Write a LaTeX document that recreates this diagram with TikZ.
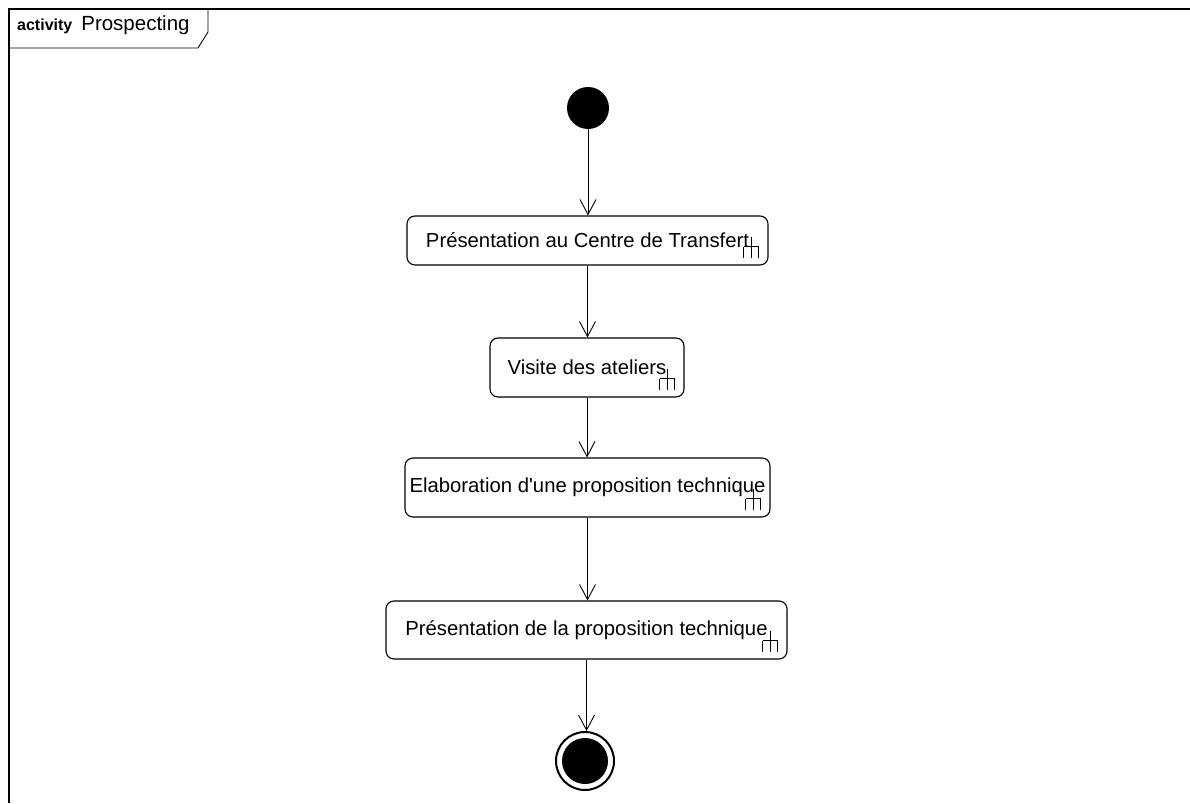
\documentclass[tikz,border=0pt]{standalone}
\usepackage{fontspec}
\setmainfont{Liberation Sans}
\usepackage{tikz}
\usetikzlibrary{arrows.meta}

\newcommand{\rakeicon}[1]{%
  \draw[rake] ([xshift=-25pt,yshift=19pt]#1.south east) -- ++(15pt,0pt);
  \draw[rake] ([xshift=-17.5pt,yshift=29pt]#1.south east) -- ++(0pt,-21pt);
  \draw[rake] ([xshift=-25pt,yshift=19pt]#1.south east) -- ++(0pt,-11pt);
  \draw[rake] ([xshift=-10pt,yshift=19pt]#1.south east) -- ++(0pt,-11pt);
}

\begin{document}
\begin{tikzpicture}[
    x=1pt, y=1pt,
    font=\fontsize{20.3}{24}\selectfont,
    action/.style={draw, line width=1.1pt, rounded corners=8pt, inner sep=0pt},
    flow/.style={draw, line width=0.9pt, -{Straight Barb[length=15pt,width=16pt]}},
    rake/.style={line width=0.9pt},
    frame/.style={draw, line width=0.9pt}
  ]
  \useasboundingbox (0,0) rectangle (1190,803);
  % frame and tab
  \draw[frame, line width=2pt] (9,0) -- (9,794) -- (1190,794);
  \draw[frame] (208,794) -- (208,771) -- (198,755) -- (9,755);
  \node[anchor=base west, inner sep=0pt] (title) at (17,772)
    {{\bfseries\fontsize{16}{19}\selectfont activity}\hspace{9pt}{\fontsize{20.5}{24}\selectfont Prospecting}};

  % nodes
  \node[circle, fill, inner sep=0pt, minimum size=42pt] (start) at (588,695) {};
  \node[action, minimum width=361pt, minimum height=49pt] (present) at (587.5,562.5) {Présentation au Centre de Transfert};
  \node[action, minimum width=194pt, minimum height=59pt] (visite) at (587,435.5) {Visite des ateliers};
  \node[action, minimum width=365pt, minimum height=59pt] (elab) at (587.5,315.5) {Elaboration d\textquotesingle une proposition technique};
  \node[action, minimum width=401pt, minimum height=58pt] (proptech) at (586.5,173) {Présentation de la proposition technique};
  \node[circle, draw, line width=2pt, inner sep=0pt, minimum size=58pt] (final) at (585,42) {};
  \node[circle, fill, inner sep=0pt, minimum size=46pt] (finaldot) at (final.center) {};

  \rakeicon{present}
  \rakeicon{visite}
  \rakeicon{elab}
  \rakeicon{proptech}

  % control flows
  \draw[flow] (start) -- (start |- present.north);
  \draw[flow] (present) -- (present |- visite.north);
  \draw[flow] (visite) -- (visite |- elab.north);
  \draw[flow] (elab) -- (elab |- proptech.north);
  \draw[flow] (proptech) -- (proptech |- final.north);
\end{tikzpicture}
\end{document}
